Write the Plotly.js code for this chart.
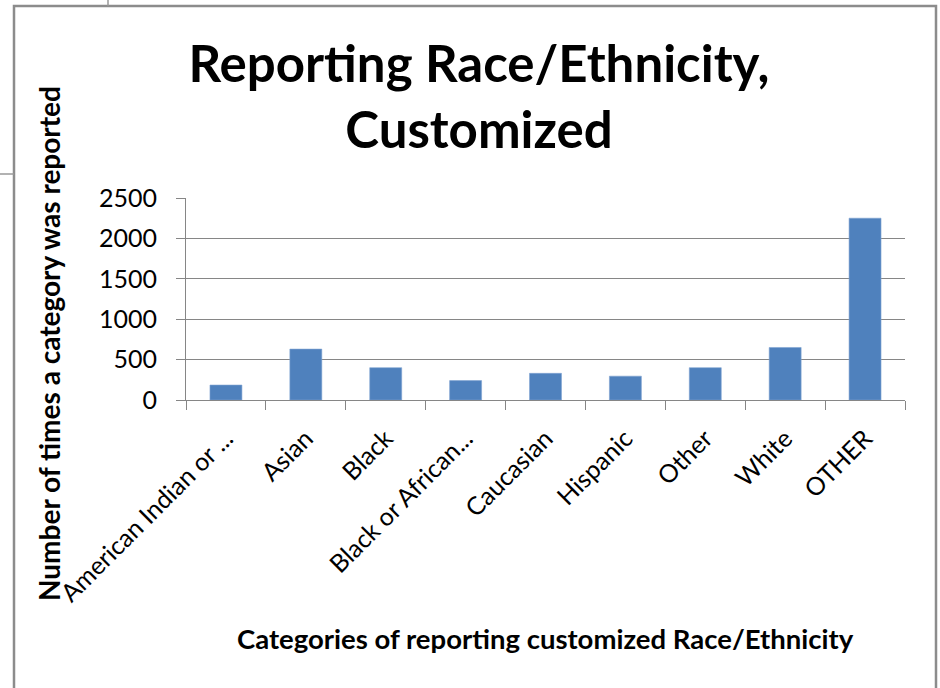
<!DOCTYPE html>
<html>
<head>
<meta charset="utf-8">
<script src="https://cdn.plot.ly/plotly-3.0.1.min.js"></script>
<style>html,body{margin:0;padding:0;background:#fff;}#chart{width:940px;height:688px;}</style>
</head>
<body>
<div id="chart"></div>
<script>
const categories = ["American Indian or ...", "Asian", "Black", "Black or African...", "Caucasian", "Hispanic", "Other", "White", "OTHER"];
const counts = [185, 630, 400, 240, 330, 295, 400, 650, 2250];
const yTicks = [0, 500, 1000, 1500, 2000, 2500];

const W = 940, H = 688;
const M = {l: 186, r: 35, t: 198, b: 288};
const PW = W - M.l - M.r, PH = H - M.t - M.b;
const px = x => (x - M.l) / PW;
const py = y => (H - M.b - y) / PH;

const FONT = "Lato, 'Open Sans', sans-serif";
const GRAY = "#868686";
const BORDER = "#8c8c8c";

const data = [{
  type: "bar",
  x: categories,
  y: counts,
  marker: {color: "#4F81BD", line: {color: "#7FA3D2", width: 0.6}},
  hoverinfo: "x+y"
}];

const layout = {
  width: W, height: H,
  margin: M,
  paper_bgcolor: "#ffffff",
  plot_bgcolor: "#ffffff",
  showlegend: false,
  bargap: 0.6,
  font: {family: FONT, color: "#000000"},
  title: {
    text: "<b>Reporting Race/Ethnicity,<br>Customized</b>",
    font: {family: FONT, size: 51, color: "#000000"},
    x: 479 / W, xanchor: "center",
    y: 1 - 82 / H, yanchor: "middle",
    xref: "container", yref: "container"
  },
  xaxis: {
    type: "category",
    showline: true, linecolor: GRAY, linewidth: 1,
    ticks: "outside", tickson: "boundaries", ticklen: 9, tickcolor: GRAY, tickwidth: 1,
    showgrid: false, zeroline: false,
    tickangle: -45,
    tickfont: {family: FONT, size: 25, color: "#000000"},
    ticklabelstandoff: 13
  },
  yaxis: {
    range: [0, 2500],
    tickvals: yTicks,
    ticktext: yTicks.map(String),
    showline: true, linecolor: GRAY, linewidth: 1,
    ticks: "outside", ticklen: 9, tickcolor: GRAY, tickwidth: 1,
    showgrid: true, gridcolor: GRAY, gridwidth: 1,
    zeroline: false,
    tickfont: {family: FONT, size: 25, color: "#000000"},
    ticklabelstandoff: 14
  },
  annotations: [
    {
      text: "<b>Number of times a category was reported</b>",
      textangle: -90,
      xref: "paper", yref: "paper",
      x: px(49), y: py(344),
      xanchor: "center", yanchor: "middle",
      showarrow: false,
      font: {family: FONT, size: 28, color: "#000000"}
    },
    {
      text: "<b>Categories of reporting customized Race/Ethnicity</b>",
      xref: "paper", yref: "paper",
      x: px(545), y: py(638),
      xanchor: "center", yanchor: "middle",
      showarrow: false,
      font: {family: FONT, size: 27.5, color: "#000000"}
    }
  ],
  shapes: [
    {type: "rect", xref: "paper", yref: "paper",
     x0: px(14), x1: px(936), y0: py(720), y1: py(6),
     line: {color: BORDER, width: 2.5}, fillcolor: "rgba(0,0,0,0)", layer: "below"},
    {type: "line", xref: "paper", yref: "paper",
     x0: px(108), x1: px(108), y0: py(0), y1: py(6),
     line: {color: "#999999", width: 1.5}},
    {type: "line", xref: "paper", yref: "paper",
     x0: px(0), x1: px(14), y0: py(174), y1: py(174),
     line: {color: "#999999", width: 1.5}}
  ]
};

Plotly.newPlot("chart", data, layout, {displayModeBar: false, staticPlot: true});
</script>
</body>
</html>
